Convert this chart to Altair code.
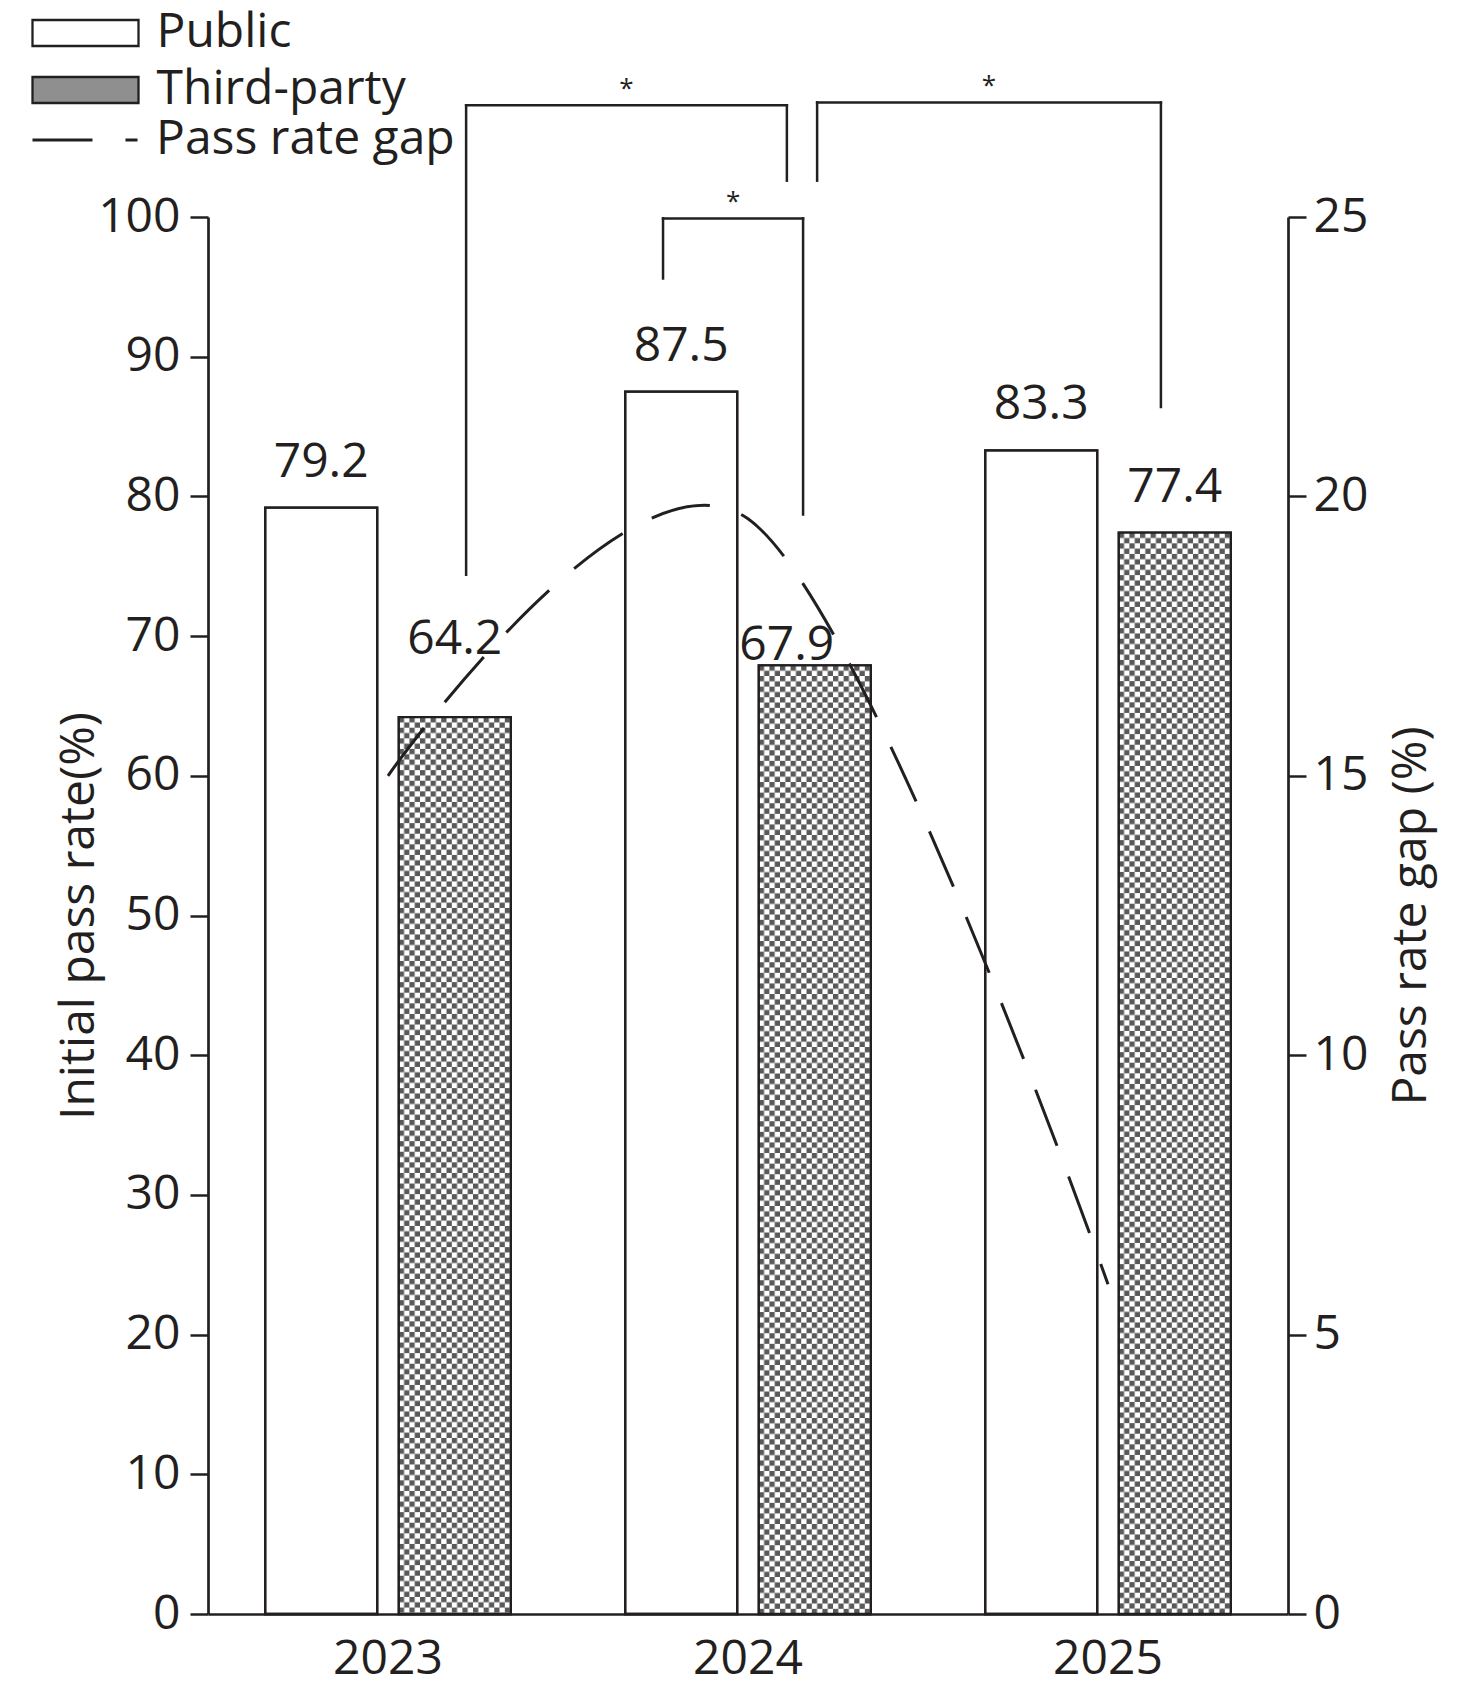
import base64
import altair as alt
import pandas as pd

# ---------------- data ----------------
years = ["2023", "2024", "2025"]
groups = ["Public", "Third-party"]
public_rate = [79.2, 87.5, 83.3]
third_party_rate = [64.2, 67.9, 77.4]
gap_series = ["Pass rate gap"]
pass_rate_gap = [15.0, 19.6, 5.9]

left_tick_values = [0, 10, 20, 30, 40, 50, 60, 70, 80, 90, 100]
right_tick_values = [0, 5, 10, 15, 20, 25]

# significance brackets: x in category units (0..3 across the x axis), y in left-axis units
bracket_left_x = [0.717, 1.264, 1.692]
bracket_right_x = [1.608, 1.653, 2.647]
bracket_top = [108.0, 99.9, 108.2]
bracket_left_end = [74.4, 95.6, 102.6]
bracket_right_end = [102.6, 78.7, 86.4]
bracket_text = ["*", "*", "*"]

bars_df = pd.DataFrame({
    "year": years + years,
    "group": [groups[0]] * len(years) + [groups[1]] * len(years),
    "value": public_rate + third_party_rate,
})
gap_df = pd.DataFrame({"year": years, "gap": pass_rate_gap,
                       "series": gap_series * len(years)})
br_df = pd.DataFrame({"lx": bracket_left_x, "rx": bracket_right_x,
                      "top": bracket_top, "lend": bracket_left_end,
                      "rend": bracket_right_end, "mark": bracket_text})

# ---------------- style ----------------
FONT = "Open Sans"
INK = "#231f20"
FS = 48

cell = 5.3
svg = (
    "<svg xmlns='http://www.w3.org/2000/svg' width='100%' height='100%'>"
    f"<defs><pattern id='c' width='{2*cell}' height='{2*cell}' patternUnits='userSpaceOnUse'>"
    f"<rect width='{2*cell}' height='{2*cell}' fill='#ffffff'/>"
    f"<rect width='{cell}' height='{cell}' fill='#595959'/>"
    f"<rect x='{cell}' y='{cell}' width='{cell}' height='{cell}' fill='#595959'/>"
    "</pattern></defs><rect width='100%' height='100%' fill='url(#c)'/></svg>"
)
checker_uri = "data:image/svg+xml;base64," + base64.b64encode(svg.encode()).decode()

x_band = alt.Scale(domain=years, paddingInner=0.3178, paddingOuter=0.1589)
off_scale = alt.Scale(domain=groups, paddingInner=0.1617, paddingOuter=0)
y_left = alt.Scale(domain=[0, 100], nice=False)

x_enc = alt.X("year:N", scale=x_band,
              axis=alt.Axis(title=None, ticks=False, tickSize=0, labelPadding=21,
                            labelAngle=0, labelFontSize=FS, domainWidth=2.7,
                            labelBaseline="top"))
x_plain = alt.X("year:N", scale=x_band)
off_enc = alt.XOffset("group:N", scale=off_scale)
y_enc = alt.Y("value:Q", scale=y_left,
              axis=alt.Axis(values=left_tick_values, title="Initial pass rate(%)",
                            titlePadding=-6, tickSize=18, tickWidth=2.5,
                            labelPadding=10, labelFontSize=FS, titleFontSize=FS,
                            domainWidth=2.7, grid=False))
y_plain = alt.Y("value:Q", scale=y_left)

base = alt.Chart(bars_df)

# legend symbols: size 676 -> unit radius 13 px; paths sized in those units
box_symbol = "M-4.077,-1H4.077V1H-4.077Z"
dash_symbol = "M-4.04,0H4.04"

bars = base.mark_bar(stroke=INK, strokeWidth=2.3).encode(
    x=x_enc,
    xOffset=off_enc,
    y=y_enc,
    fill=alt.Fill("group:N",
                  scale=alt.Scale(domain=groups, range=["#ffffff", "#8f8f8f"]),
                  legend=alt.Legend(title=None, orient="none", legendX=-146.5, legendY=-208,
                                    symbolType=box_symbol, symbolSize=676,
                                    symbolStrokeColor=INK, symbolStrokeWidth=2.3,
                                    labelFontSize=FS, labelOffset=47, rowPadding=9,
                                    labelLimit=0, padding=0)),
)

pattern = base.transform_filter(alt.datum.group == "Third-party").mark_image(aspect=False).encode(
    x=x_plain,
    xOffset=off_enc,
    y=y_plain,
    y2=alt.datum(0),
    url=alt.value(checker_uri),
)

outline = base.mark_bar(fillOpacity=0, stroke=INK, strokeWidth=2.3).encode(
    x=x_plain, xOffset=off_enc, y=y_plain,
)

txt = dict(font=FONT, fontSize=FS, color=INK, baseline="alphabetic")
is_a = (alt.datum.year == "2023") & (alt.datum.group == "Third-party")
is_b = (alt.datum.year == "2024") & (alt.datum.group == "Third-party")

labels_main = base.transform_filter(~is_a & ~is_b).mark_text(dy=-31, **txt).encode(
    x=x_plain, xOffset=off_enc, y=y_plain, text=alt.Text("value:Q", format=".1f"))
labels_a = base.transform_filter(is_a).mark_text(dy=-63, **txt).encode(
    x=x_plain, xOffset=off_enc, y=y_plain, text=alt.Text("value:Q", format=".1f"))
labels_b = base.transform_filter(is_b).mark_text(dx=-28, dy=-5, **txt).encode(
    x=x_plain, xOffset=off_enc, y=y_plain, text=alt.Text("value:Q", format=".1f"))

bar_group = alt.layer(bars, pattern, outline, labels_main, labels_a, labels_b)

# annotations (brackets)
x_lin = alt.Scale(domain=[0, 3], nice=False, zero=False)
y_ann = alt.Scale(domain=[0, 100], nice=False)
br = alt.Chart(br_df)
rule_style = dict(stroke=INK, strokeWidth=2.5, strokeCap="square")
h_rule = br.mark_rule(**rule_style).encode(
    x=alt.X("lx:Q", scale=x_lin, axis=None), x2="rx:Q",
    y=alt.Y("top:Q", scale=y_ann, axis=None))
l_rule = br.mark_rule(**rule_style).encode(
    x=alt.X("lx:Q", scale=x_lin, axis=None),
    y=alt.Y("top:Q", scale=y_ann, axis=None), y2="lend:Q")
r_rule = br.mark_rule(**rule_style).encode(
    x=alt.X("rx:Q", scale=x_lin, axis=None),
    y=alt.Y("top:Q", scale=y_ann, axis=None), y2="rend:Q")
stars = br.transform_calculate(mx="(datum.lx + datum.rx) / 2").mark_text(
    font=FONT, fontSize=26, color=INK, baseline="alphabetic", dy=-8.5).encode(
    x=alt.X("mx:Q", scale=x_lin, axis=None),
    y=alt.Y("top:Q", scale=y_ann, axis=None),
    text="mark:N")
annot = alt.layer(h_rule, l_rule, r_rule, stars)

line = alt.Chart(gap_df).mark_line(interpolate="cardinal", tension=0, stroke=INK,
                                   strokeWidth=3).encode(
    x=alt.X("year:N", scale=x_band, axis=None),
    y=alt.Y("gap:Q", scale=alt.Scale(domain=[0, 25], nice=False),
            axis=alt.Axis(orient="right", values=right_tick_values,
                          title="Pass rate gap (%)", titleAngle=270, titleBaseline="top",
                          titlePadding=20, tickSize=18, tickWidth=2.5, labelPadding=7,
                          labelFontSize=FS, titleFontSize=FS, domainWidth=2.7, grid=False)),
    strokeDash=alt.StrokeDash("series:N",
                              scale=alt.Scale(domain=gap_series, range=[[60, 33]]),
                              legend=alt.Legend(title=None, orient="none", legendX=-147,
                                                legendY=-101, symbolType=dash_symbol,
                                                symbolSize=676, symbolStrokeWidth=3,
                                                symbolStrokeColor=INK, labelFontSize=FS,
                                                labelOffset=47, labelLimit=0, padding=0)),
)

chart = alt.layer(bar_group, annot, line).resolve_scale(
    x="independent", y="independent"
).properties(
    width=1080, height=1397,
    padding={"left": 200, "top": 209, "right": 180, "bottom": 74},
    autosize=alt.AutoSizeParams(type="none"),
).configure(
    font=FONT
).configure_axis(
    labelFont=FONT, titleFont=FONT, labelColor=INK, titleColor=INK,
    domainColor=INK, tickColor=INK, titleFontWeight="normal", grid=False,
).configure_legend(
    labelFont=FONT, labelColor=INK,
).configure_view(
    stroke="transparent"
)

chart.save("out.html", embed_options={"renderer": "svg", "actions": False})
